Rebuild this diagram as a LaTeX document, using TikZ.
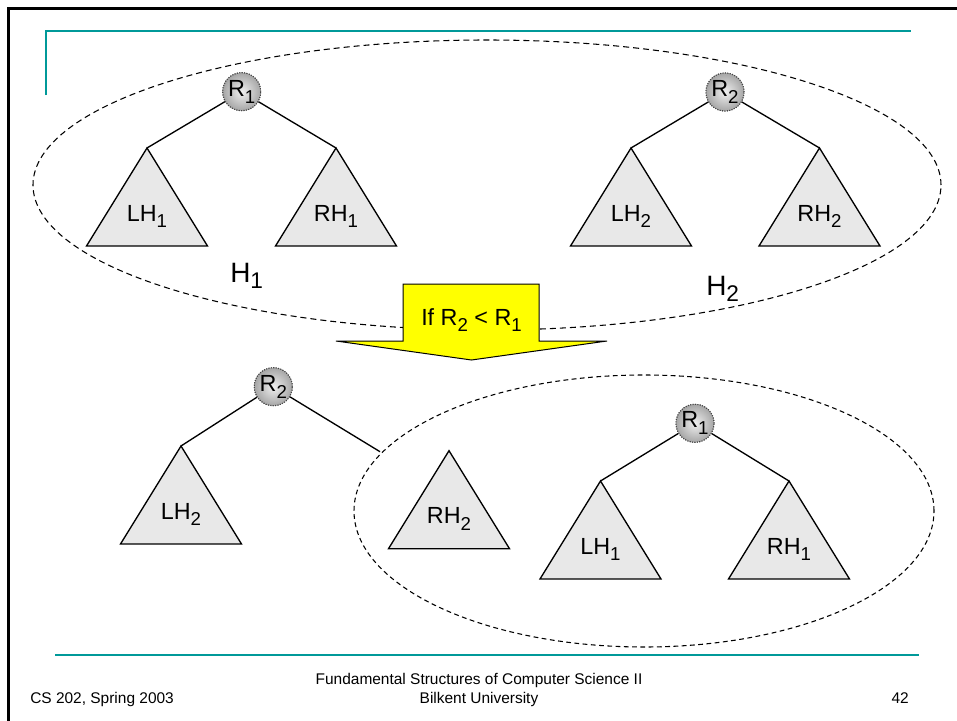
\documentclass[tikz,border=0pt]{standalone}
\usepackage{fontspec}
\setmainfont{Liberation Sans}

\definecolor{rulecol}{RGB}{0,153,153}
\definecolor{treefill}{RGB}{232,232,232}
\definecolor{condfill}{RGB}{255,255,0}

% lowered, smaller index as used in the labels
\newcommand\lowsub[2][14]{\raisebox{-5pt}{\fontsize{#1}{#1}\selectfont #2}}

\tikzset{
  frame/.style={line width=2.25pt, black},
  rule/.style={line width=2.2pt, rulecol},
  heap/.style={dash pattern=on 4.5pt off 3pt, line width=0.8pt},
  subheapring/.style={dash pattern=on 3.6pt off 2.6pt, line width=0.8pt},
  root/.style={circle, minimum size=28.5pt, inner sep=0pt, shading=radial,
    inner color=gray!12, outer color=gray!70, draw=gray!55!black,
    densely dotted, line width=0.8pt, font=\fontsize{17.5}{17.5}\selectfont},
  branch/.style={line width=1pt, black},
  subheap/.style={fill=treefill, draw=black, line width=1pt, line join=miter},
  lbl/.style={anchor=base, inner sep=0pt, font=\fontsize{17.5}{17.5}\selectfont},
  heaplbl/.style={anchor=base west, inner sep=0pt, font=\fontsize{21}{21}\selectfont},
  foot/.style={inner sep=0pt, font=\fontsize{11.6}{11.6}\selectfont},
}

% a subtree drawn as a triangle hanging from its apex
\newcommand\Subtree[4]{%
  \coordinate (#1) at (#2,#3);
  \draw[subheap] (#1) -- ++(60.5,98) -- ++(-121,0) -- cycle;
  \node[lbl] (#1-l) at (#2,{#3+73}) {#4};
}

\begin{document}
\begin{tikzpicture}[x=0.75pt,y=-0.75pt]
\useasboundingbox (0,0) rectangle (957,721);

% slide frame and rules
\draw[frame] (8.5,721) -- (8.5,8.5) -- (957,8.5);
\draw[rule] (46,95) -- (46,31) -- (911,31);
\draw[rule] (55,655) -- (919,655);

% the two heaps before merging
\draw[heap] (487,185) ellipse [x radius=340.5pt, y radius=108.75pt];

\node[root] (r1) at (241.7,91.7) {R\lowsub{1}};
\Subtree{lh1}{147}{148}{LH\lowsub{1}}
\Subtree{rh1}{336}{148}{RH\lowsub{1}}
\draw[branch] (r1) -- (lh1);
\draw[branch] (r1) -- (rh1);
\node[root] (r1) at (241.7,91.7) {R\lowsub{1}};

\node[root] (r2) at (725,92) {R\lowsub{2}};
\Subtree{lh2}{631}{148}{LH\lowsub{2}}
\Subtree{rh2}{819.5}{148}{RH\lowsub{2}}
\draw[branch] (r2) -- (lh2);
\draw[branch] (r2) -- (rh2);
\node[root] (r2) at (725,92) {R\lowsub{2}};

\node[heaplbl] (h1) at (230,282) {H\lowsub[17]{1}};
\node[heaplbl] (h2) at (706,295) {H\lowsub[17]{2}};

% condition arrow
\draw[fill=condfill, line width=0.75pt, line join=miter]
  (403,284) -- (539,284) -- (539,341) -- (607,341) -- (471.5,360)
  -- (336,341) -- (403,341) -- cycle;
\node[lbl] (cond) at (471.5,325) {If R\lowsub{2} < R\lowsub{1}};

% the merged heap
\draw[subheapring] (644,511) ellipse [x radius=217.5pt, y radius=102pt];

\coordinate (rim) at (380,451.7);
\Subtree{blh2}{181}{446}{LH\lowsub{2}}
\node[root] (br2) at (273.3,386.7) {R\lowsub{2}};
\draw[branch] (br2) -- (blh2);
\draw[branch] (br2) -- (rim);
\node[root] (br2) at (273.3,386.7) {R\lowsub{2}};

\Subtree{brh2}{449}{450.7}{RH\lowsub{2}}
\Subtree{blh1}{600.5}{481}{LH\lowsub{1}}
\Subtree{brh1}{789}{481}{RH\lowsub{1}}
\node[root] (br1) at (695,423.3) {R\lowsub{1}};
\draw[branch] (br1) -- (blh1);
\draw[branch] (br1) -- (brh1);
\node[root] (br1) at (695,423.3) {R\lowsub{1}};

% footer
\node[foot, anchor=base] (course) at (479,684.5) {Fundamental Structures of Computer Science II};
\node[foot, anchor=base] (school) at (479,703) {Bilkent University};
\node[foot, anchor=base west] (term) at (30,703) {CS 202, Spring 2003};
\node[foot, anchor=base east] (page) at (909,703) {42};
\end{tikzpicture}
\end{document}
